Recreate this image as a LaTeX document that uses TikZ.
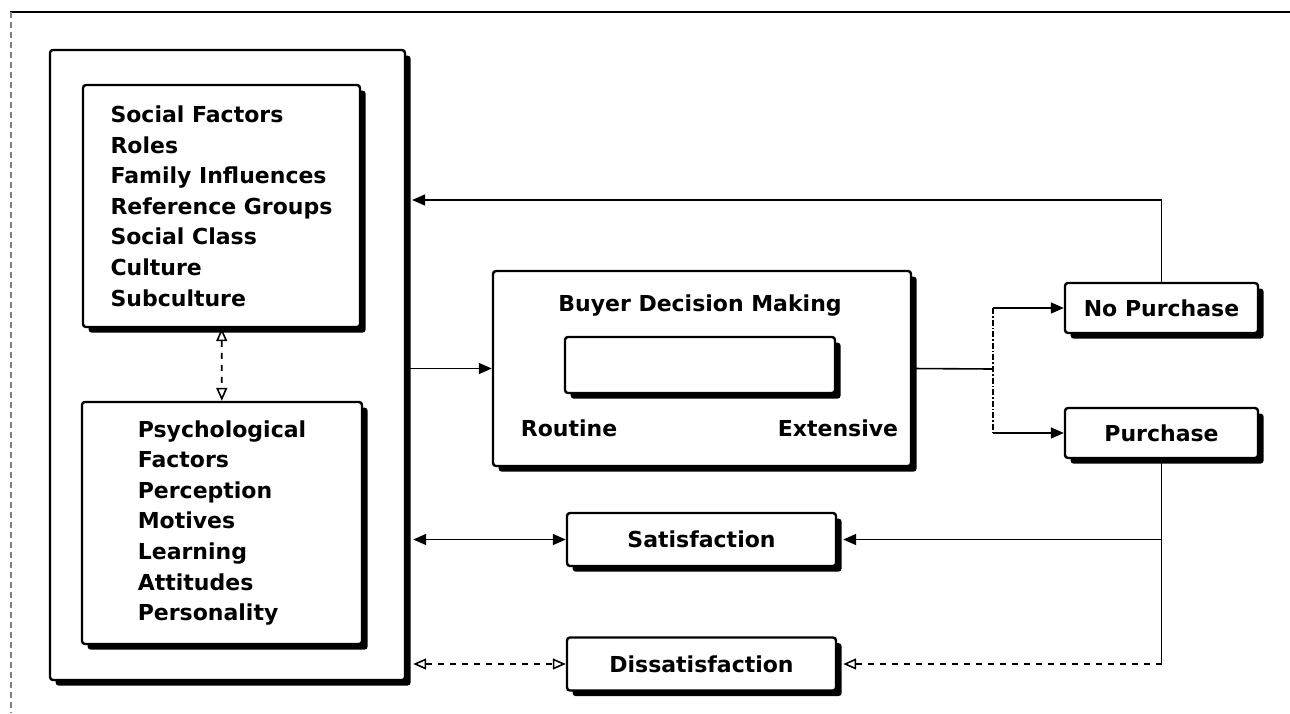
\documentclass[tikz,border=0pt]{standalone}
\usepackage{fontspec}
\setmainfont{DejaVu Sans}
\usetikzlibrary{positioning}
\usetikzlibrary{arrows.meta}
\usetikzlibrary{shadows}
\tikzset{
    every node/.style={
        font=\bfseries\fontsize{11}{15.3}\selectfont},
    box/.style={
        draw,
        line width=1.2pt,
        fill=white,
        rounded corners=1.5pt,
        drop shadow={shadow xshift=2.8pt, shadow yshift=-2.8pt,
                     fill=black, opacity=1}},
    line/.style={
        line width=0.8pt},
    both/.style={
        arrows={Triangle[length=6.5pt,width=5.5pt]-Triangle[length=6.5pt,width=5.5pt]}},
    openboth/.style={
        dashed,
        arrows={Triangle[open,length=6.5pt,width=5.5pt]-Triangle[open,length=6.5pt,width=5.5pt]}},
    every edge/.style={
        draw,
        line width=0.8pt,
        -{Triangle[length=6.5pt,width=5.5pt]}}}

\begin{document}
\begin{tikzpicture}[x=0.5pt,y=-0.5pt]
        \useasboundingbox (0,0) rectangle (1290,713);
        % page frame
        \draw[line] (10,12) -- (1290,12);
        \draw[line width=0.6pt, densely dashed, gray] (11,12) -- (11,713);

        % buyer side
        \node[box, minimum width=177.5pt, minimum height=315pt] (outer) at (227.5,365) {};
        \node[box, align=left, minimum width=138.5pt, minimum height=121pt] (social) at (221.5,206)
            {Social Factors\\Roles\\Family Influences\\Reference Groups\\Social Class\\Culture\\Subculture};
        \node[box, align=left, minimum width=140pt, minimum height=121pt] (psych) at (222,523)
            {Psychological\\Factors\\Perception\\Motives\\Learning\\Attitudes\\Personality};

        % decision
        \node[box, minimum width=209pt, minimum height=97.5pt] (bdm) at (702,368.5) {};
        \node (title) at (700,306) {Buyer Decision Making};
        \node[box, minimum width=135pt, minimum height=28pt] (scale) at (700,365) {};
        \node (routine) at (569,428) {Routine};
        \node (extensive) at (838,428) {Extensive};

        % outcomes
        \node[box, minimum width=96.5pt, minimum height=25pt] (npurch) at (1161.5,308) {No Purchase};
        \node[box, minimum width=96.5pt, minimum height=25pt] (purch) at (1161.5,433) {Purchase};
        \node[box, minimum width=134.5pt, minimum height=26.5pt] (satis) at (701.5,539.5) {Satisfaction};
        \node[box, minimum width=134.5pt, minimum height=26.5pt] (dissat) at (701.5,664) {Dissatisfaction};

        \coordinate (split) at (993,369);
        \coordinate (back) at (1163,200);

        \draw (social) edge[openboth] (psych);
        \draw (outer.east |- bdm) edge (bdm);
        \draw[line] (bdm.east) -- (split);
        \draw[line, densely dashdotted] (split |- npurch) -- (split |- purch);
        \draw (split |- npurch) edge (npurch);
        \draw (split |- purch) edge (purch);

        \draw[line, -{Triangle[length=6.5pt,width=5.5pt]}, shorten >=3pt] (npurch.north) |- (outer.east |- back);
        \draw[line] (purch.south) -- (purch.south |- dissat);
        \draw (purch.south |- satis) edge[shorten >=3pt] (satis);
        \draw (purch.south |- dissat) edge[dashed, -{Triangle[open,length=6.5pt,width=5.5pt]}, shorten >=3pt] (dissat);

        \draw (outer.east |- satis) edge[both, shorten <=3.5pt] (satis);
        \draw (outer.east |- dissat) edge[openboth, shorten <=3.5pt] (dissat);
    \end{tikzpicture}
\end{document}
